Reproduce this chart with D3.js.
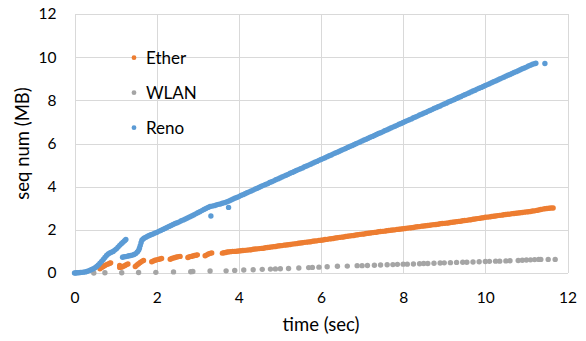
<!DOCTYPE html>
<html>
<head>
<meta charset="utf-8">
<script src="https://cdn.jsdelivr.net/npm/d3@7"></script>
<style>
  html, body { margin: 0; padding: 0; background: #fff; }
  svg { display: block; font-family: Lato, "Open Sans", sans-serif; }
</style>
</head>
<body>
<svg id="chart" width="586" height="341"></svg>
<script>
// Sequence number (MB) vs time (sec) for three TCP traces.
const seriesNames = ["Ether", "WLAN", "Reno"];
const seriesColors = ["#ED7D31", "#A5A5A5", "#5B9BD5"];
const xTicks = [0, 2, 4, 6, 8, 10, 12];
const yTicks = [0, 2, 4, 6, 8, 10, 12];

// [time, seq] samples
const etherData = [
  [0.62,0.2],[0.66,0.25],[0.7,0.3],[0.74,0.35],[0.78,0.39],[0.82,0.42],[0.86,0.45],[0.88,0.47],
  [1.1,0.35],[1.1,0.26],[1.14,0.27],[1.18,0.3],[1.22,0.34],[1.26,0.38],[1.3,0.42],
  [1.48,0.3],[1.52,0.37],[1.56,0.43],[1.6,0.49],[1.64,0.54],[1.68,0.58],
  [1.88,0.52],[1.92,0.56],[1.96,0.59],[2.0,0.61],[2.04,0.63],[2.08,0.65],[2.12,0.67],
  [2.33,0.64],[2.37,0.67],[2.41,0.7],[2.45,0.72],[2.49,0.74],[2.53,0.76],[2.57,0.77],
  [2.76,0.72],[2.8,0.75],[2.84,0.77],[2.88,0.79],[2.92,0.81],[2.96,0.82],[2.99,0.84],
  [3.18,0.8],[3.22,0.84],[3.26,0.88],[3.3,0.91],[3.34,0.93],
  [3.6,0.92],[3.64,0.94],[3.68,0.95],[3.72,0.97],[3.76,0.98],[3.8,0.99],
  [3.85,1.0],[3.9,1.0],[3.95,1.01],[4.0,1.02],[4.05,1.03],[4.1,1.04],[4.15,1.05],[4.2,1.06],[4.25,1.07],[4.3,1.08],
  [4.35,1.1],[4.4,1.11],[4.45,1.12],[4.5,1.13],[4.55,1.14],[4.6,1.15],[4.65,1.17],[4.7,1.18],[4.75,1.19],[4.8,1.21],
  [4.85,1.22],[4.9,1.23],[4.95,1.25],[5.0,1.26],[5.05,1.27],[5.1,1.29],[5.15,1.3],[5.2,1.31],[5.25,1.32],[5.3,1.34],
  [5.35,1.35],[5.4,1.36],[5.45,1.38],[5.5,1.39],[5.55,1.4],[5.6,1.42],[5.65,1.43],[5.7,1.44],[5.75,1.45],[5.8,1.47],
  [5.85,1.48],[5.9,1.49],[5.95,1.51],[6.0,1.52],[6.05,1.53],[6.1,1.55],[6.15,1.56],[6.2,1.58],[6.25,1.59],[6.3,1.6],
  [6.35,1.62],[6.4,1.63],[6.45,1.65],[6.5,1.66],[6.55,1.67],[6.6,1.69],[6.65,1.7],[6.7,1.72],[6.75,1.73],[6.8,1.74],
  [6.85,1.76],[6.9,1.77],[6.95,1.79],[7.0,1.8],[7.05,1.81],[7.1,1.83],[7.15,1.84],[7.2,1.85],[7.25,1.87],[7.3,1.88],
  [7.35,1.89],[7.4,1.91],[7.45,1.92],[7.5,1.93],[7.55,1.94],[7.6,1.96],[7.65,1.97],[7.7,1.98],[7.75,1.99],[7.8,2.0],
  [7.85,2.02],[7.9,2.03],[7.95,2.04],[8.0,2.05],[8.05,2.06],[8.1,2.08],[8.15,2.09],[8.2,2.1],[8.25,2.11],[8.3,2.13],
  [8.35,2.14],[8.4,2.15],[8.45,2.17],[8.5,2.18],[8.55,2.19],[8.6,2.2],[8.65,2.21],[8.7,2.23],[8.75,2.24],[8.8,2.25],
  [8.85,2.26],[8.9,2.28],[8.95,2.29],[9.0,2.3],[9.05,2.31],[9.1,2.32],[9.15,2.34],[9.2,2.35],[9.25,2.36],[9.3,2.38],
  [9.35,2.39],[9.4,2.4],[9.45,2.42],[9.5,2.43],[9.55,2.44],[9.6,2.46],[9.65,2.47],[9.7,2.49],[9.75,2.5],[9.8,2.52],
  [9.85,2.53],[9.9,2.55],[9.95,2.56],[10.0,2.58],[10.05,2.59],[10.1,2.6],[10.15,2.62],[10.2,2.63],[10.25,2.64],[10.3,2.66],
  [10.35,2.67],[10.4,2.68],[10.45,2.7],[10.5,2.71],[10.55,2.72],[10.6,2.73],[10.65,2.75],[10.7,2.76],[10.75,2.77],[10.8,2.78],
  [10.85,2.79],[10.9,2.8],[10.95,2.82],[11.0,2.83],[11.05,2.84],[11.1,2.85],[11.15,2.87],[11.2,2.88],[11.25,2.9],[11.3,2.92],
  [11.35,2.94],[11.4,2.96],[11.45,2.98],[11.5,2.99],[11.55,3.0],[11.6,3.01],[11.65,3.01]
];

const wlanData = [
  [0.47,0.0],[0.74,0.01],[1.15,0.01],[1.56,0.02],[1.98,0.03],[2.41,0.05],[2.83,0.06],[2.88,0.07],[3.3,0.09],
  [3.69,0.1],[3.9,0.12],[4.12,0.14],[4.35,0.15],[4.57,0.17],[4.77,0.18],[4.89,0.19],[5.01,0.2],[5.21,0.21],
  [5.46,0.23],[5.7,0.25],[5.79,0.26],[5.95,0.27],[6.15,0.29],[6.4,0.31],[6.64,0.32],[6.88,0.34],[7.0,0.34],
  [7.13,0.35],[7.3,0.36],[7.45,0.37],[7.61,0.38],[7.75,0.39],[7.86,0.4],[8.0,0.41],[8.1,0.41],[8.25,0.42],
  [8.4,0.43],[8.5,0.44],[8.6,0.44],[8.75,0.45],[8.9,0.46],[9.0,0.47],[9.15,0.48],[9.3,0.49],[9.45,0.5],
  [9.55,0.5],[9.7,0.51],[9.85,0.52],[10.0,0.53],[10.1,0.54],[10.25,0.55],[10.35,0.55],[10.5,0.56],[10.6,0.57],
  [10.8,0.58],[10.9,0.59],[11.0,0.6],[11.1,0.61],[11.2,0.62],[11.3,0.63],[11.35,0.63],[11.53,0.63],[11.7,0.63]
];

const renoData = [
  [0,0],[0.03,0],[0.06,0.01],[0.1,0.01],[0.14,0.02],[0.18,0.03],[0.22,0.04],[0.26,0.05],[0.3,0.07],[0.34,0.1],
  [0.38,0.13],[0.42,0.17],[0.46,0.2],[0.5,0.24],[0.54,0.3],[0.58,0.37],[0.62,0.45],[0.66,0.54],[0.7,0.63],[0.74,0.72],
  [0.78,0.81],[0.82,0.88],[0.86,0.93],[0.9,0.96],[0.94,1.0],[0.98,1.06],[1.02,1.12],[1.06,1.2],[1.1,1.28],[1.14,1.36],
  [1.18,1.43],[1.22,1.5],[1.25,1.55],
  [1.17,0.73],[1.21,0.75],[1.25,0.76],[1.29,0.78],[1.33,0.8],[1.37,0.81],[1.41,0.83],[1.45,0.86],[1.49,0.9],[1.53,0.97],
  [1.56,1.05],[1.58,1.15],[1.6,1.27],[1.62,1.4],[1.64,1.52],[1.67,1.58],[1.7,1.62],[1.74,1.66],[1.78,1.7],[1.82,1.74],
  [1.86,1.77],[1.9,1.8],[1.95,1.84],[2.0,1.88],[2.05,1.93],[2.1,1.97],[2.15,2.02],[2.2,2.06],[2.25,2.11],[2.3,2.16],
  [2.35,2.2],[2.4,2.25],[2.45,2.29],[2.5,2.33],[2.55,2.37],[2.6,2.42],[2.65,2.46],[2.7,2.5],[2.75,2.55],[2.8,2.6],
  [2.85,2.64],[2.9,2.69],[2.95,2.74],[3.0,2.79],[3.05,2.84],[3.1,2.89],[3.15,2.94],[3.2,2.99],[3.25,3.04],[3.3,3.08],
  [3.32,2.64],
  [3.35,3.1],[3.4,3.12],[3.45,3.15],[3.5,3.18],[3.55,3.2],[3.6,3.23],[3.65,3.26],[3.7,3.29],[3.75,3.33],
  [3.75,3.04],
  [3.8,3.37],[3.85,3.42],[3.9,3.46],[3.95,3.5],[4.0,3.54],[4.05,3.59],[4.1,3.63],[4.15,3.67],[4.2,3.72],[4.25,3.76],
  [4.3,3.8],[4.35,3.84],[4.4,3.89],[4.45,3.93],[4.5,3.97],[4.55,4.02],[4.6,4.06],[4.65,4.1],[4.7,4.14],[4.75,4.19],
  [4.8,4.23],[4.85,4.27],[4.9,4.32],[4.95,4.36],[5.0,4.4],[5.05,4.45],[5.1,4.49],[5.15,4.53],[5.2,4.57],[5.25,4.62],
  [5.3,4.66],[5.35,4.7],[5.4,4.75],[5.45,4.79],[5.5,4.83],[5.55,4.87],[5.6,4.92],[5.65,4.96],[5.7,5.0],[5.75,5.04],
  [5.8,5.09],[5.85,5.13],[5.9,5.17],[5.95,5.22],[6.0,5.26],[6.05,5.3],[6.1,5.34],[6.15,5.39],[6.2,5.43],[6.25,5.47],
  [6.3,5.52],[6.35,5.56],[6.4,5.6],[6.45,5.64],[6.5,5.69],[6.55,5.73],[6.6,5.77],[6.65,5.82],[6.7,5.86],[6.75,5.9],
  [6.8,5.94],[6.85,5.99],[6.9,6.03],[6.95,6.07],[7.0,6.12],[7.05,6.16],[7.1,6.2],[7.15,6.24],[7.2,6.29],[7.25,6.33],
  [7.3,6.37],[7.35,6.42],[7.4,6.46],[7.45,6.5],[7.5,6.54],[7.55,6.59],[7.6,6.63],[7.65,6.67],[7.7,6.72],[7.75,6.76],
  [7.8,6.8],[7.85,6.84],[7.9,6.89],[7.95,6.93],[8.0,6.97],[8.05,7.02],[8.1,7.06],[8.15,7.1],[8.2,7.14],[8.25,7.19],
  [8.3,7.23],[8.35,7.27],[8.4,7.32],[8.45,7.36],[8.5,7.4],[8.55,7.44],[8.6,7.49],[8.65,7.53],[8.7,7.57],[8.75,7.62],
  [8.8,7.66],[8.85,7.7],[8.9,7.74],[8.95,7.79],[9.0,7.83],[9.05,7.87],[9.1,7.92],[9.15,7.96],[9.2,8.0],[9.25,8.04],
  [9.3,8.09],[9.35,8.13],[9.4,8.17],[9.45,8.22],[9.5,8.26],[9.55,8.3],[9.6,8.34],[9.65,8.39],[9.7,8.43],[9.75,8.47],
  [9.8,8.52],[9.85,8.56],[9.9,8.6],[9.95,8.64],[10.0,8.69],[10.05,8.73],[10.1,8.77],[10.15,8.82],[10.2,8.86],[10.25,8.9],
  [10.3,8.94],[10.35,8.99],[10.4,9.03],[10.45,9.07],[10.5,9.12],[10.55,9.16],[10.6,9.2],[10.65,9.24],[10.7,9.29],[10.75,9.33],
  [10.8,9.37],[10.85,9.42],[10.9,9.46],[10.95,9.5],[11.0,9.54],[11.05,9.59],[11.1,9.63],[11.15,9.67],[11.2,9.7],[11.23,9.72],
  [11.45,9.71]
];

const seriesData = [etherData, wlanData, renoData];

const svg = d3.select("#chart");
const plot = { left: 74.5, right: 567.5, top: 14, bottom: 273 };

const x = d3.scaleLinear().domain([0, 12]).range([plot.left, plot.right]);
const y = d3.scaleLinear().domain([0, 12]).range([plot.bottom, plot.top]);

// Gridlines
const grid = svg.append("g").attr("stroke", "#D9D9D9").attr("stroke-width", 1).attr("shape-rendering", "crispEdges");
grid.selectAll("line.h").data(yTicks).join("line").attr("class", "h")
  .attr("x1", plot.left).attr("x2", plot.right)
  .attr("y1", d => Math.round(y(d)) + 0.5).attr("y2", d => Math.round(y(d)) + 0.5);
grid.selectAll("line.v").data(xTicks).join("line").attr("class", "v")
  .attr("y1", plot.top).attr("y2", plot.bottom)
  .attr("x1", d => Math.round(x(d)) + 0.5).attr("x2", d => Math.round(x(d)) + 0.5);

// Axes (labels only)
const xAxis = svg.append("g").attr("transform", `translate(0,${plot.bottom})`)
  .call(d3.axisBottom(x).tickValues(xTicks).tickSize(0).tickPadding(19).tickFormat(d3.format("d")));
const yAxis = svg.append("g").attr("transform", `translate(${plot.left},0)`)
  .call(d3.axisLeft(y).tickValues(yTicks).tickSize(0).tickPadding(18).tickFormat(d3.format("d")));
[xAxis, yAxis].forEach(a => {
  a.select(".domain").remove();
  a.selectAll("text").attr("fill", "#000").style("font-size", "15.5px").style("font-family", "Lato, sans-serif");
});

// Points
seriesData.forEach((data, i) => {
  svg.append("g").attr("fill", seriesColors[i])
    .selectAll("circle").data(data).join("circle")
    .attr("cx", d => x(d[0])).attr("cy", d => y(d[1])).attr("r", 2.7);
});

// Axis titles
svg.append("text").attr("x", (plot.left + plot.right) / 2).attr("y", 331)
  .attr("text-anchor", "middle").style("font-size", "18.5px").text("time (sec)");
svg.append("text").attr("transform", `translate(29,${(plot.top + plot.bottom) / 2}) rotate(-90)`)
  .attr("text-anchor", "middle").style("font-size", "18.5px").text("seq num (MB)");

// Legend
const legend = svg.append("g");
seriesNames.forEach((name, i) => {
  const ly = 57.7 + i * 35;
  legend.append("circle").attr("cx", 134).attr("cy", ly).attr("r", 2.4).attr("fill", seriesColors[i]);
  legend.append("text").attr("x", 146).attr("y", ly + 6.5).style("font-size", "17px").text(name);
});
</script>
</body>
</html>
